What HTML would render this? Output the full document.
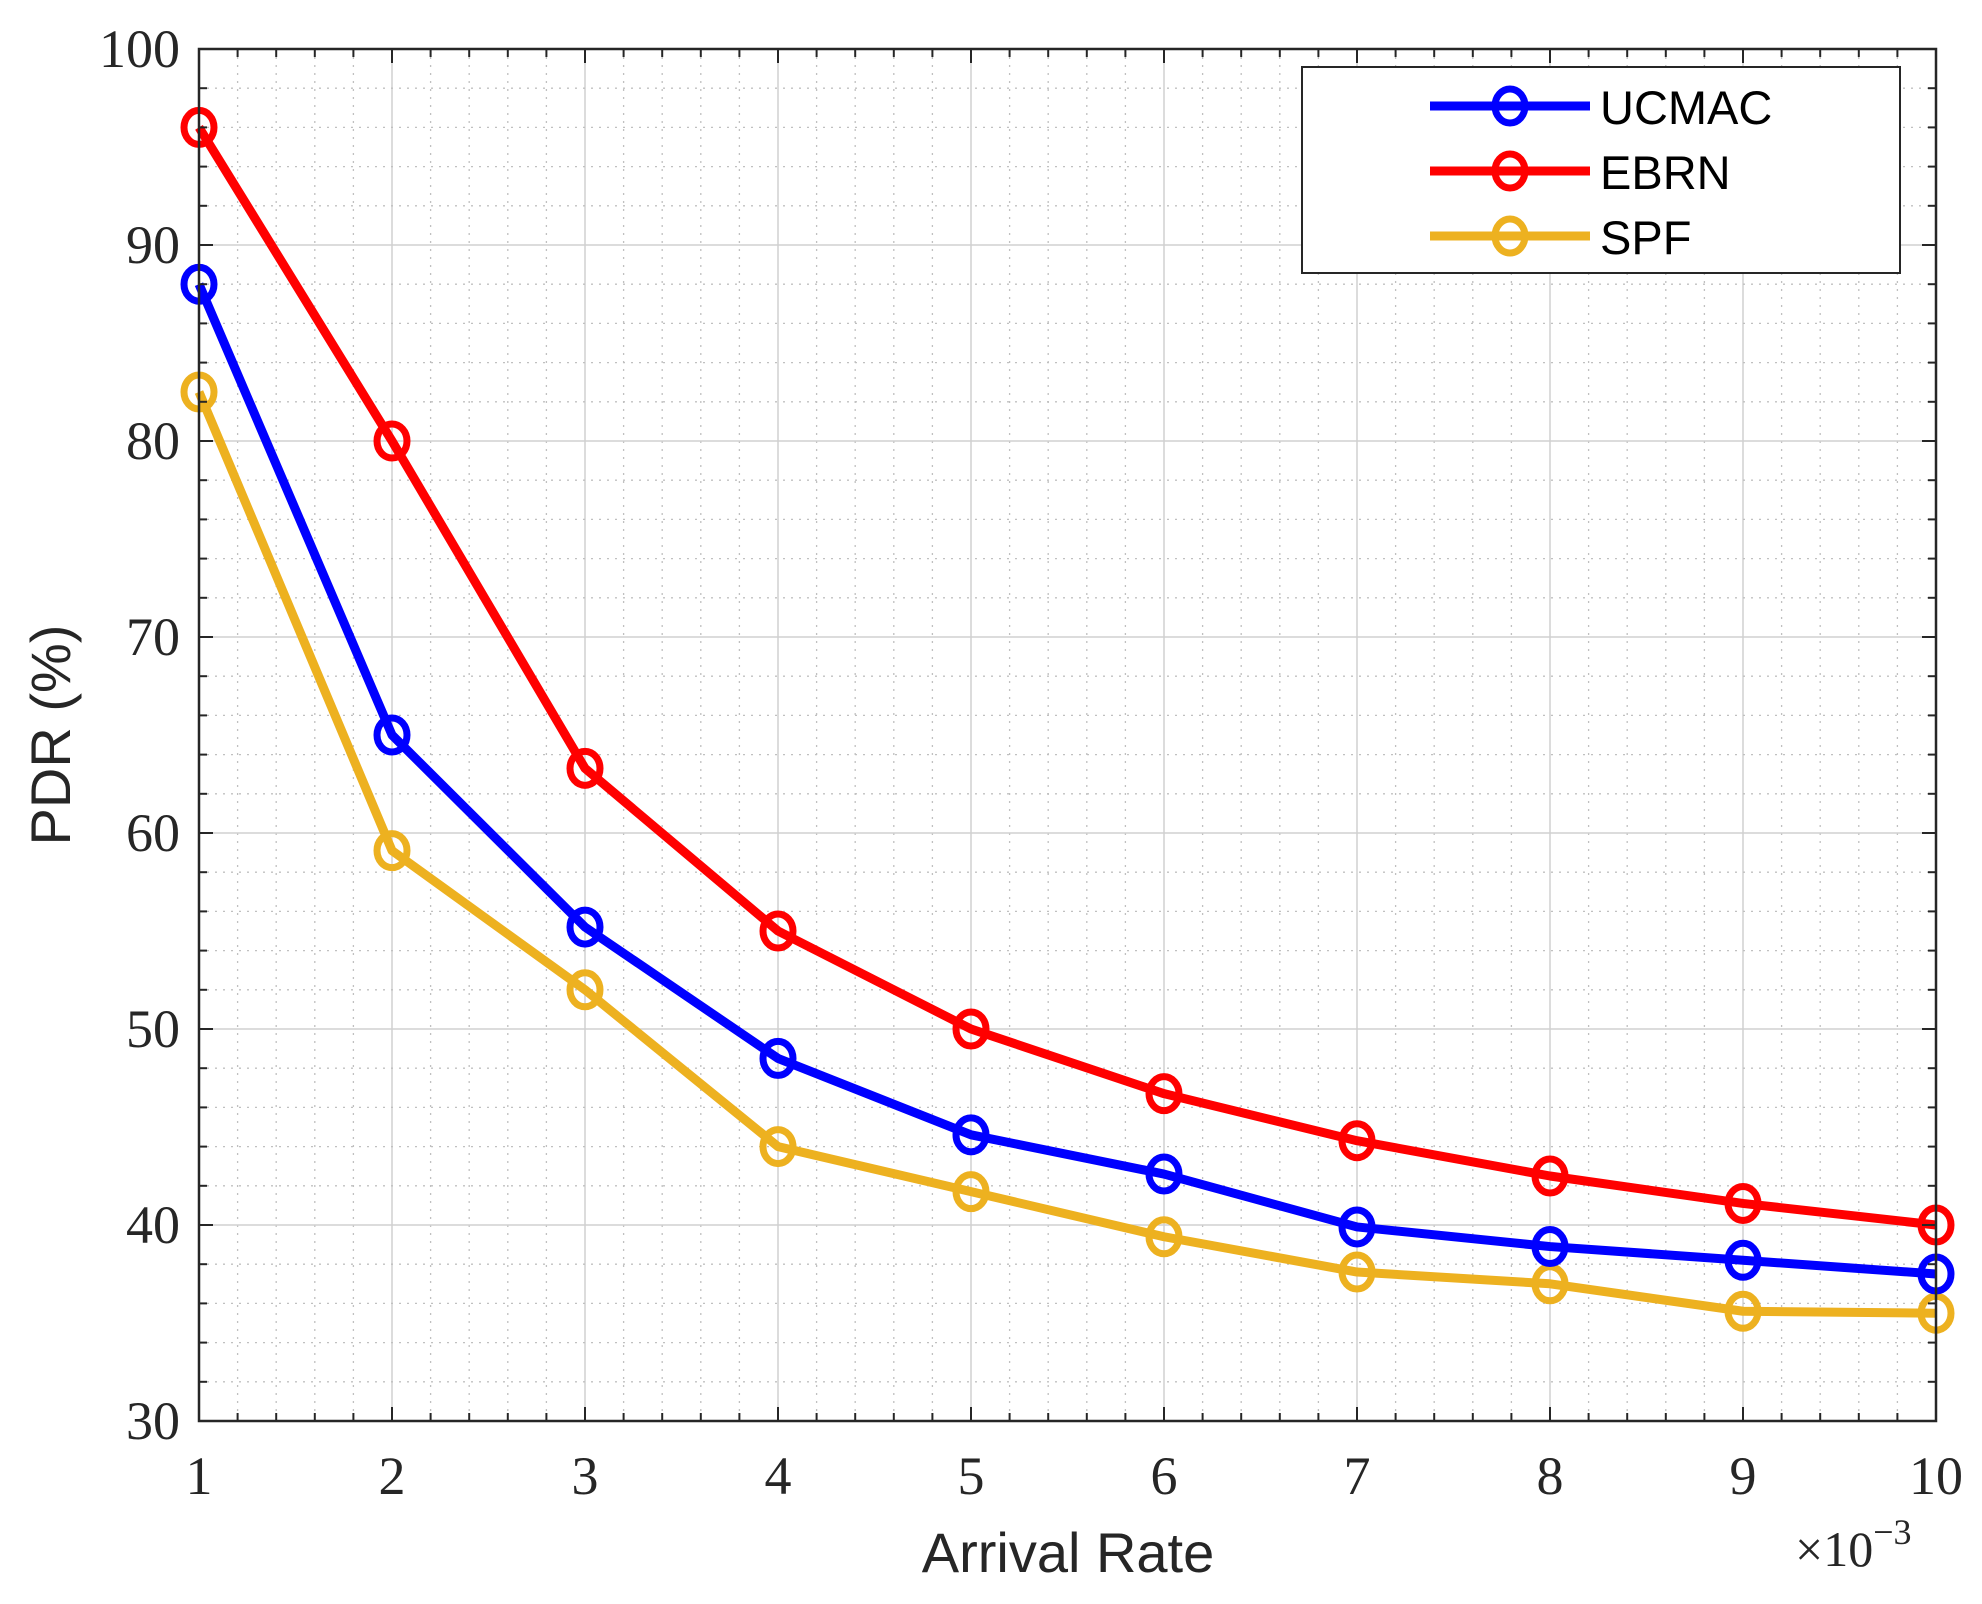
<!DOCTYPE html>
<html><head><meta charset="utf-8"><style>
html,body{margin:0;padding:0;background:#fff;}
svg{display:block;}
.tk{font-family:"Liberation Serif",serif;font-size:54px;fill:#262626;}
.lab{font-family:"Liberation Sans",sans-serif;font-size:56px;fill:#262626;}
.leg{font-family:"Liberation Sans",sans-serif;font-size:47px;fill:#000;}
</style></head><body>
<svg id="chart" width="1982" height="1604" xmlns="http://www.w3.org/2000/svg">
<g id="grid"></g>
<g id="series"></g>
<rect x="199" y="49" width="1737" height="1372" fill="none" stroke="#262626" stroke-width="2.5"/>
<g id="ticks"></g>
<text class="lab" x="1068" y="1572" text-anchor="middle">Arrival Rate</text>
<text class="tk" x="1795" y="1566" style="font-size:50px">×10<tspan dy="-22" style="font-size:36px">−3</tspan></text>
<text class="lab" transform="translate(70,735) rotate(-90)" text-anchor="middle">PDR (%)</text>
<g>
<rect x="1302" y="67" width="598" height="206" fill="#fff" stroke="#262626" stroke-width="2"/>
<g>
<line x1="1430" y1="106" x2="1590" y2="106" stroke="#0000ff" stroke-width="9"/>
<ellipse cx="1510" cy="106" rx="15" ry="17" fill="none" stroke="#0000ff" stroke-width="7"/>
<text class="leg" x="1600" y="124">UCMAC</text></g>
<g>
<line x1="1430" y1="171" x2="1590" y2="171" stroke="#ff0000" stroke-width="9"/>
<ellipse cx="1510" cy="171" rx="15" ry="17" fill="none" stroke="#ff0000" stroke-width="7"/>
<text class="leg" x="1600" y="189">EBRN</text></g>
<g>
<line x1="1430" y1="236" x2="1590" y2="236" stroke="#edb120" stroke-width="9"/>
<ellipse cx="1510" cy="236" rx="15" ry="17" fill="none" stroke="#edb120" stroke-width="7"/>
<text class="leg" x="1600" y="254">SPF</text></g>
</g>
</svg>
<script>
const categories=[1,2,3,4,5,6,7,8,9,10];
const ucmac=[88,65,55.2,48.5,44.6,42.6,39.9,38.9,38.2,37.5];
const ebrn=[96,80,63.3,55,50,46.7,44.3,42.5,41.1,40];
const spf=[82.5,59.1,52,44,41.7,39.4,37.6,37,35.6,35.5];
const xTicks=[1,2,3,4,5,6,7,8,9,10];
const yTicks=[30,40,50,60,70,80,90,100];
const NS="http://www.w3.org/2000/svg";
const L=199,R=1936,T=49,B=1421;
function xs(v){return L+(v-1)/9*(R-L);}
function ys(v){return B-(v-30)/70*(B-T);}
function mk(tag,attrs,parent){const e=document.createElementNS(NS,tag);for(const k in attrs)e.setAttribute(k,attrs[k]);parent.appendChild(e);return e;}
const grid=document.getElementById('grid'),ticks=document.getElementById('ticks'),series=document.getElementById('series');
for(let v=1;v<=10.001;v+=0.2){const x=xs(v);const major=Math.abs(v-Math.round(v))<1e-6;
 const g=mk('line',{x1:x,x2:x,y1:T,y2:B,stroke:major?'#d0d0d0':'#c0c0c0','stroke-width':major?1.5:1.3,'stroke-dasharray':major?'none':'2 6'},grid);
 
 
 const len=major?14:8;
 mk('line',{x1:x,x2:x,y1:B,y2:B-len,stroke:'#262626','stroke-width':2},ticks);
 mk('line',{x1:x,x2:x,y1:T,y2:T+len,stroke:'#262626','stroke-width':2},ticks);}
for(let v=30;v<=100.001;v+=2){const y=ys(v);const major=Math.round(v)%10===0;
 const g=mk('line',{x1:L,x2:R,y1:y,y2:y,stroke:major?'#d0d0d0':'#c0c0c0','stroke-width':major?1.5:1.3,'stroke-dasharray':major?'none':'2 6'},grid);
 
 
 const len=major?14:8;
 mk('line',{x1:L,x2:L+len,y1:y,y2:y,stroke:'#262626','stroke-width':2},ticks);
 mk('line',{x1:R,x2:R-len,y1:y,y2:y,stroke:'#262626','stroke-width':2},ticks);}
xTicks.forEach(v=>{const t=mk('text',{class:'tk',x:xs(v),y:1494,'text-anchor':'middle'},ticks);t.textContent=v;
 
 });
yTicks.forEach(v=>{const t=mk('text',{class:'tk',x:180,y:ys(v)+18,'text-anchor':'end'},ticks);t.textContent=v;
 
 });
function draw(vals,color,name){
 const p=mk('polyline',{points:vals.map((v,i)=>xs(categories[i])+','+ys(v)).join(' '),fill:'none',stroke:color,'stroke-width':9,'stroke-linejoin':'round'},series);
 
 
 vals.forEach((v,i)=>{const c=mk('ellipse',{cx:xs(categories[i]),cy:ys(v),rx:15,ry:17,fill:'none',stroke:color,'stroke-width':7},series);
  
  });}
draw(spf,'#edb120','spf');
draw(ucmac,'#0000ff','ucmac');
draw(ebrn,'#ff0000','ebrn');
</script>
</body></html>
